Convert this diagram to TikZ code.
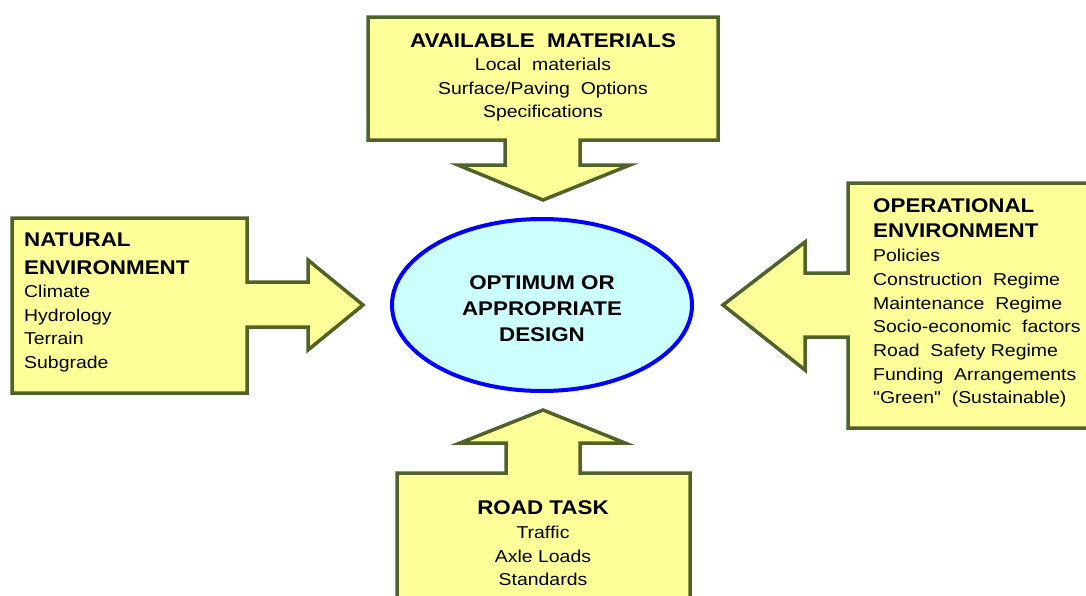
\documentclass[tikz,border=0pt]{standalone}
\usepackage{fontspec}
\setmainfont[FakeStretch=1.13]{Liberation Sans}
\newfontfamily\plainquote[FakeStretch=1.13,Ligatures=Common]{Liberation Sans}
\definecolor{boxfill}{HTML}{FFFF99}
\definecolor{boxline}{HTML}{4F6228}
\definecolor{ellfill}{HTML}{CCFFFF}
\definecolor{ellline}{HTML}{0000FF}
\newcommand{\sq}{{\plainquote\char34}}
\begin{document}
\begin{tikzpicture}[x=1pt,y=-1pt,
  blockarrow/.style={draw=boxline,fill=boxfill,line width=3.5pt,line join=miter},
  ttl/.style={font=\fontsize{19.8}{23}\selectfont\bfseries,inner sep=0pt},
  bodytxt/.style={font=\fontsize{17.2}{20}\selectfont,inner sep=0pt},
  hub/.style={draw=ellline,fill=ellfill,line width=4pt}]
\useasboundingbox (0,0) rectangle (1086,595);
\clip (0,0) rectangle (1086,595);
% shapes
\draw[blockarrow] (368,17) -- (718,17) -- (718,140) -- (580,140) -- (580,165) -- (630,165) -- (543,200) -- (458,165) -- (505,165) -- (505,140) -- (368,140) -- cycle;
\draw[blockarrow] (12,218) -- (247,218) -- (247,282) -- (308,282) -- (308,260) -- (363,305) -- (308,350) -- (308,327) -- (247,327) -- (247,393) -- (12,393) -- cycle;
\draw[blockarrow] (848,183) -- (1110,183) -- (1110,428) -- (848,428) -- (848,337) -- (805,337) -- (805,370) -- (723,305) -- (805,242) -- (805,273) -- (848,273) -- cycle;
\draw[blockarrow] (397,620) -- (397,473) -- (506,473) -- (506,443) -- (460,443) -- (543,410) -- (625,443) -- (580,443) -- (580,473) -- (690,473) -- (690,620) -- cycle;
\draw[hub] (542,305) ellipse [x radius=150, y radius=86];
% top
\node[ttl,anchor=base] (t0) at (543,47) {AVAILABLE\ \ MATERIALS};
\node[bodytxt,anchor=base] (t1) at (543,70) {Local\ \ materials};
\node[bodytxt,anchor=base] (t2) at (543,94) {Surface/Paving\ \ Options};
\node[bodytxt,anchor=base] (t3) at (543,117) {Specifications};
% left
\node[ttl,anchor=base west] (l0) at (24,246) {NATURAL};
\node[ttl,anchor=base west] (l1) at (24,274) {ENVIRONMENT};
\node[bodytxt,anchor=base west] (l2) at (24,297) {Climate};
\node[bodytxt,anchor=base west] (l3) at (24,321) {Hydrology};
\node[bodytxt,anchor=base west] (l4) at (24,344) {Terrain};
\node[bodytxt,anchor=base west] (l5) at (24,368) {Subgrade};
% right
\node[ttl,anchor=base west] (r0) at (873,212) {OPERATIONAL};
\node[ttl,anchor=base west] (r1) at (873,237) {ENVIRONMENT};
\node[bodytxt,anchor=base west] (r2) at (873,261) {Policies};
\node[bodytxt,anchor=base west] (r3) at (873,285) {Construction\ \ Regime};
\node[bodytxt,anchor=base west] (r4) at (873,309) {Maintenance\ \ Regime};
\node[bodytxt,anchor=base west] (r5) at (873,332) {Socio-economic\ \ factors};
\node[bodytxt,anchor=base west] (r6) at (873,356) {Road\ \ Safety Regime};
\node[bodytxt,anchor=base west] (r7) at (873,380) {Funding\ \ Arrangements};
\node[bodytxt,anchor=base west] (r8) at (873,403) {\sq Green\sq\ \ (Sustainable)};
% bottom
\node[ttl,anchor=base] (b0) at (543,514) {ROAD TASK};
\node[bodytxt,anchor=base] (b1) at (543,538) {Traffic};
\node[bodytxt,anchor=base] (b2) at (543,562) {Axle Loads};
\node[bodytxt,anchor=base] (b3) at (543,585) {Standards};
% centre
\node[ttl,anchor=base] (c0) at (542,289) {OPTIMUM OR};
\node[ttl,anchor=base] (c1) at (542,315) {APPROPRIATE};
\node[ttl,anchor=base] (c2) at (542,341) {DESIGN};
\end{tikzpicture}
\end{document}
